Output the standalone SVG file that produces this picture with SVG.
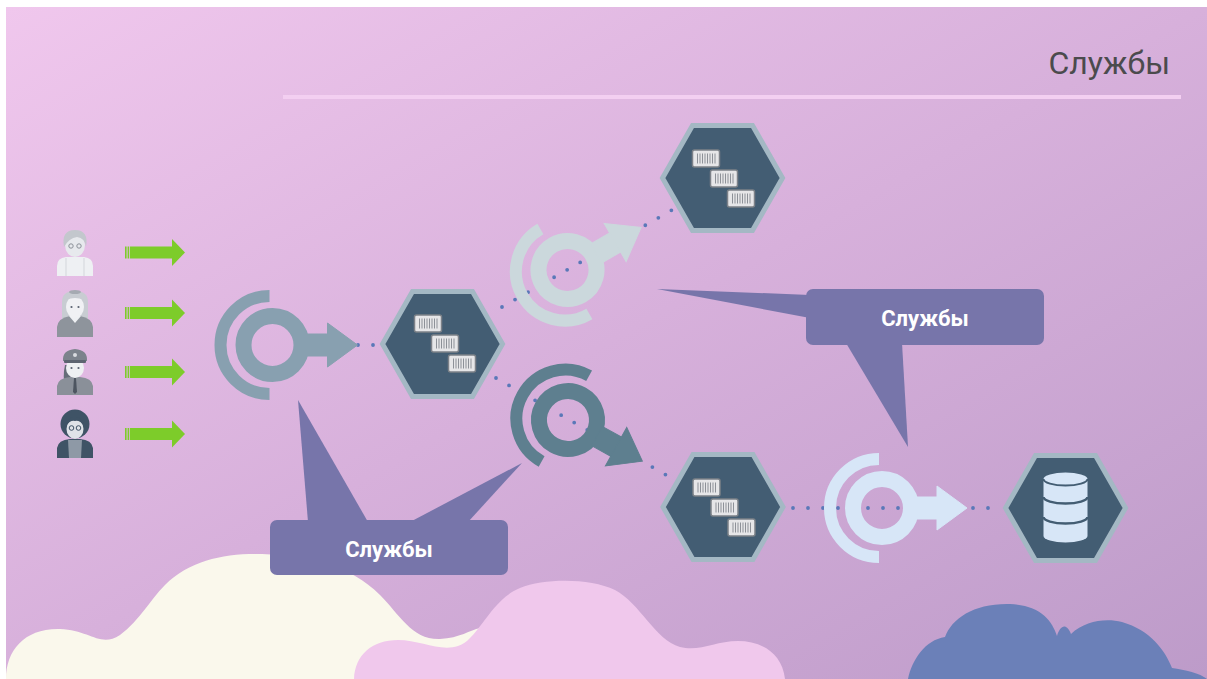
<svg xmlns="http://www.w3.org/2000/svg" width="1207" height="679" viewBox="0 0 1207 679">
  <defs>
    <linearGradient id="bg" x1="0" y1="0" x2="1" y2="1">
      <stop offset="0" stop-color="#f0c7ed"/>
      <stop offset="0.5" stop-color="#d7b0db"/>
      <stop offset="1" stop-color="#bd9bc9"/>
    </linearGradient>
    <!-- service icon: ring, back arc and arrow, centred on the ring -->
    <g id="svc">
      <circle cx="0" cy="0" r="29" fill="none" stroke-width="16"/>
      <path d="M-3,-49 A49,49 0 1 0 -3,49" fill="none" stroke-width="12"/>
      <rect x="33" y="-11" width="24" height="22"/>
      <polygon points="55,-22 85,0 55,22"/>
    </g>
    <!-- container block with barcode stripes -->
    <g id="box">
      <rect x="0" y="0" width="27" height="17" rx="2" fill="#e6e6e8" stroke="#7c8188" stroke-width="1.5"/>
      <path d="M5,3.5V13.5M7.5,3.5V13.5M10,3.5V13.5M12.5,3.5V13.5M15,3.5V13.5M17.5,3.5V13.5M20,3.5V13.5M22.5,3.5V13.5" stroke="#8d9198" stroke-width="1"/>
    </g>
    <polygon id="hexShape" points="-60,0 -30,-52.5 30,-52.5 60,0 30,52.5 -30,52.5"/>
    <g id="green-arrow">
      <rect x="0" y="-6" width="1.6" height="12"/>
      <rect x="2.6" y="-6" width="1.6" height="12"/>
      <rect x="5" y="-6" width="43" height="12"/>
      <polygon points="47,-13.5 60,0 47,13.5"/>
    </g>
  </defs>
  <style>
    .hex { fill: #435d73; stroke: #a4b8c4; stroke-width: 5; stroke-linejoin: miter; }
    .dots { fill: none; stroke: #5a78b8; stroke-width: 3.8; stroke-linecap: round; stroke-dasharray: 0 15; }
    .callout { fill: #7775aa; }
    .callout-text { font-family: Roboto, "Liberation Sans", sans-serif; font-weight: bold; font-size: 22px; fill: #ffffff; text-anchor: middle; }
    .title { font-family: Roboto, "Liberation Sans", sans-serif; font-size: 32px; fill: #4b4b4d; text-anchor: end; }
  </style>

  <!-- backdrop -->
  <rect x="0" y="0" width="1207" height="679" fill="#ffffff"/>
  <rect x="6" y="7" width="1201" height="672" fill="url(#bg)"/>

  <!-- header -->
  <text class="title" x="1170" y="74">Службы</text>
  <rect x="283" y="95" width="898" height="4" fill="#f3cff1"/>

  <!-- clouds -->
  <path d="M6,679 C6,650 25,628 60,629 C90,630 100,648 120,635 C140,620 150,600 165,585 C190,560 225,553 262,554 C310,556 350,565 380,595 C400,615 412,640 440,639 C460,638 470,630 480,628 L480,679 Z" fill="#faf8ec"/>
  <path d="M354,679 C355,655 372,640 398,640 C420,640 440,652 458,646 C478,640 490,600 520,588 C545,578 590,578 615,590 C640,603 655,640 680,647 C700,652 715,641 738,641 C760,641 782,652 785,679 Z" fill="#f0c8ec"/>
  <path d="M908,679 C912,660 925,640 945,637 C952,618 975,603 1010,604 C1040,605 1052,620 1057,636 C1060,626 1066,622 1071,634 C1085,621 1105,618 1122,622 C1150,630 1165,650 1172,668 C1185,670 1200,673 1207,679 Z" fill="#6b80b8"/>

  <!-- users -->
  <g id="user-1">
    <path d="M57,276 L57,266 Q57,258 66,257 L84,257 Q93,258 93,266 L93,276 Z" fill="#eef0f3"/>
    <path d="M66,258 L66,276 M84,258 L84,276" stroke="#d3d6db" stroke-width="1"/>
    <ellipse cx="75" cy="245" rx="10" ry="12" fill="#e7e9ed"/>
    <path d="M64,247 Q61,230 75,230 Q89,230 86,247 Q85,238 77,237 Q69,238 64,247 Z" fill="#c3c7cd"/>
    <circle cx="71" cy="246" r="2.2" fill="none" stroke="#8b9098" stroke-width="1"/>
    <circle cx="79" cy="246" r="2.2" fill="none" stroke="#8b9098" stroke-width="1"/>
  </g>
  <g id="user-2">
    <path d="M62,326 L62,302 Q62,291 75,291 Q88,291 88,302 L88,326 Z" fill="#c8ccd2"/>
    <path d="M57,337 L57,327 Q58,318 70,316 L80,316 Q92,318 93,327 L93,337 Z" fill="#8e949c"/>
    <path d="M69,316 L75,323 L81,316 Z" fill="#eef0f3"/>
    <ellipse cx="75" cy="307" rx="9" ry="11" fill="#f0f1f4"/>
    <path d="M66,300 Q75,290 84,300 Q75,296 66,300 Z" fill="#c8ccd2"/>
    <ellipse cx="75" cy="292" rx="6" ry="2" fill="#a5aab2"/>
    <circle cx="71.5" cy="307" r="1.1" fill="#5a6270"/>
    <circle cx="78.5" cy="307" r="1.1" fill="#5a6270"/>
  </g>
  <g id="user-3">
    <path d="M65,365 Q62,378 66,386 L71,384 L70,365 Z" fill="#666d78"/>
    <path d="M57,395 L57,386 Q58,378 70,377 L80,377 Q92,378 93,386 L93,395 Z" fill="#8a9099"/>
    <path d="M74,378 L76,378 L77,392 L75,394 L73,392 Z" fill="#4d5560"/>
    <ellipse cx="75" cy="368" rx="9" ry="10" fill="#eef0f2"/>
    <path d="M63,361 Q62,350 75,349 Q88,350 87,361 Z" fill="#7c838c"/>
    <rect x="64" y="360" width="22" height="3" rx="1" fill="#5d6470"/>
    <circle cx="75" cy="355" r="2" fill="#d9dce0"/>
    <circle cx="71.5" cy="368" r="1.1" fill="#5a6270"/>
    <circle cx="78.5" cy="368" r="1.1" fill="#5a6270"/>
  </g>
  <g id="user-4">
    <circle cx="75" cy="424" r="14.5" fill="#3f5366"/>
    <path d="M57,458 L57,448 Q58,440 70,439 L80,439 Q92,440 93,448 L93,458 Z" fill="#3f5366"/>
    <path d="M68,440 L82,440 L81,458 L69,458 Z" fill="#8e99a6"/>
    <ellipse cx="75" cy="429" rx="8.5" ry="10" fill="#dfe3e8"/>
    <path d="M66,426 Q68,416 75,417 Q82,416 84,426 Q80,420 75,421 Q70,420 66,426 Z" fill="#3f5366"/>
    <circle cx="71.5" cy="428" r="2.3" fill="none" stroke="#3f5366" stroke-width="1"/>
    <circle cx="78.5" cy="428" r="2.3" fill="none" stroke="#3f5366" stroke-width="1"/>
  </g>

  <!-- request arrows -->
  <g id="request-arrows" fill="#7dcc2a">
    <use href="#green-arrow" transform="translate(125,252.5)"/>
    <use href="#green-arrow" transform="translate(125,313)"/>
    <use href="#green-arrow" transform="translate(125,372)"/>
    <use href="#green-arrow" transform="translate(125,434)"/>
  </g>

  <!-- connectors -->
  <g id="connectors">
    <path class="dots" d="M358,345 L382,345"/>
    <path class="dots" d="M502,307 L672,210"/>
    <path class="dots" d="M496,378 L668,476"/>
    <path class="dots" d="M793,508 L1000,508"/>
  </g>

  <!-- service icons -->
  <g id="service-gateway" fill="#88a0b0" stroke="#88a0b0">
    <use href="#svc" transform="translate(272.5,345)"/>
  </g>
  <g id="service-upper" fill="#cbd8dc" stroke="#cbd8dc">
    <use href="#svc" transform="translate(567.5,270) rotate(-30)"/>
  </g>
  <g id="service-lower" fill="#5e7f8f" stroke="#5e7f8f">
    <use href="#svc" transform="translate(568,420) rotate(29)"/>
  </g>
  <g id="service-db" fill="#d7e6f7" stroke="#d7e6f7">
    <use href="#svc" transform="translate(882,508)"/>
  </g>

  <!-- container hosts -->
  <g id="host-a" transform="translate(442.5,344)">
    <use href="#hexShape" class="hex"/>
    <use href="#box" x="-28" y="-29"/>
    <use href="#box" x="-11" y="-9"/>
    <use href="#box" x="6" y="11"/>
  </g>
  <g id="host-b" transform="translate(722.5,178)">
    <use href="#hexShape" class="hex"/>
    <use href="#box" x="-30" y="-28"/>
    <use href="#box" x="-12" y="-8"/>
    <use href="#box" x="5" y="12"/>
  </g>
  <g id="host-c" transform="translate(723,507)">
    <use href="#hexShape" class="hex"/>
    <use href="#box" x="-30" y="-28"/>
    <use href="#box" x="-12" y="-8"/>
    <use href="#box" x="5" y="12"/>
  </g>
  <g id="database" transform="translate(1065.5,508)">
    <use href="#hexShape" class="hex"/>
    <path d="M-22,-29 A22,6.5 0 0 1 22,-29 L22,28 A22,6.5 0 0 1 -22,28 Z" fill="#d7e6f7"/>
    <path d="M-22,-29 A22,6.5 0 0 0 22,-29" fill="none" stroke="#435d73" stroke-width="2"/>
    <path d="M-22,-11 A22,6.5 0 0 0 22,-11" fill="none" stroke="#435d73" stroke-width="2.5"/>
    <path d="M-22,9 A22,6.5 0 0 0 22,9" fill="none" stroke="#435d73" stroke-width="2.5"/>
  </g>

  <!-- callouts -->
  <g id="callout-left">
    <polygon class="callout" points="298,400 308,522 368,522"/>
    <polygon class="callout" points="522,463 410,522 468,522"/>
    <rect class="callout" x="270" y="520" width="238" height="55" rx="7"/>
    <text class="callout-text" x="389" y="557">Службы</text>
  </g>
  <g id="callout-right">
    <polygon class="callout" points="657,289 810,295 810,318"/>
    <polygon class="callout" points="846,343 908,447 902,343"/>
    <rect class="callout" x="806" y="289" width="238" height="56" rx="7"/>
    <text class="callout-text" x="925" y="326">Службы</text>
  </g>
</svg>
